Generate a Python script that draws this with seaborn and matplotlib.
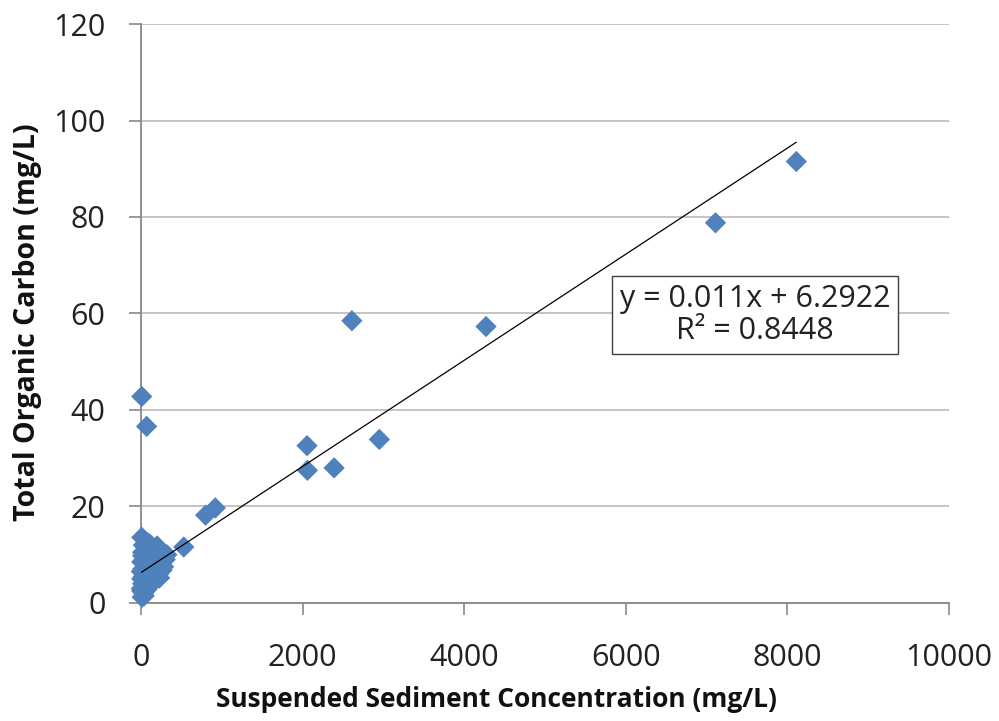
import matplotlib
matplotlib.use("Agg")
import matplotlib.pyplot as plt
import seaborn as sns
import numpy as np
import pandas as pd

# ---- data ----
ssc = [8110, 7110, 4270, 2610, 2950, 2390, 2055, 2060, 10, 70, 920, 800, 530,
       10, 110, 60, 200, 240, 150, 20, 90, 270, 300, 180, 40, 10, 120, 250, 280,
       200, 60, 20, 140, 220, 90, 30, 10, 160, 60, 100, 20, 40, 70, 10, 30, 15,
       5, 50, 130, 170, 320, 5, 80, 260, 230, 110,
       50, 100, 150, 200, 30, 70, 110, 180, 240, 40, 80, 120, 20, 60, 140, 190]
toc = [91.5, 78.8, 57.3, 58.5, 33.9, 28.0, 32.6, 27.5, 42.8, 36.6, 19.7, 18.2, 11.6,
       13.6, 12.2, 11.5, 11.8, 11.0, 10.8, 10.5, 10.0, 9.6, 9.0, 9.2, 9.0, 8.5, 8.3, 8.0, 7.5,
       7.0, 7.5, 7.0, 6.5, 6.0, 5.8, 5.5, 5.0, 5.0, 4.5, 4.0, 4.0, 3.2, 2.8, 2.5, 2.0, 1.2,
       3.0, 6.2, 7.2, 8.0, 10.0, 6.5, 12.5, 6.8, 5.2, 3.5,
       10.0, 9.0, 8.0, 9.5, 12.0, 8.8, 6.0, 6.5, 9.0, 1.5, 4.8, 5.3, 9.8, 3.8, 11.5, 10.2]
x_ticks = [0, 2000, 4000, 6000, 8000, 10000]
y_ticks = [0, 20, 40, 60, 80, 100, 120]
slope = 0.011
intercept = 6.2922
r_squared = 0.8448

sns.set_theme(style="white")
plt.rcParams['font.family'] = ['Open Sans', 'DejaVu Sans']

fig = plt.figure(figsize=(9.99, 7.21), dpi=100)
ax = fig.add_axes([0.1411, 0.1637, 0.8089, 0.803])

df = pd.DataFrame({"SSC": ssc, "TOC": toc})
sns.scatterplot(data=df, x="SSC", y="TOC", marker="D", s=118, color="#4F81BD",
                edgecolor="none", linewidth=0, ax=ax, zorder=3, clip_on=False)

xs = np.array([min(ssc), max(ssc)], dtype=float)
sns.lineplot(x=xs, y=slope * xs + intercept, color="black", linewidth=0.9, ax=ax, zorder=4)

ax.set_xlim(0, 10000)
ax.set_ylim(0, 120)
ax.set_xticks(x_ticks)
ax.set_yticks(y_ticks)
ax.set_xticklabels([str(t) for t in x_ticks])
ax.set_yticklabels([str(t) for t in y_ticks])

ax.yaxis.grid(True, color="#BFBFBF", linewidth=1.3)
ax.xaxis.grid(False)
ax.set_axisbelow(True)
for s in ["top", "right"]:
    ax.spines[s].set_visible(False)
for s in ["left", "bottom"]:
    ax.spines[s].set_color("#878787")
    ax.spines[s].set_linewidth(1.3)

ax.tick_params(axis="both", which="major", direction="out", length=8.5, width=1.2,
               color="#878787", labelsize=22, labelcolor="#222222")
ax.tick_params(axis="x", bottom=True, pad=20)
ax.tick_params(axis="y", left=True, pad=17)

ax.set_xlabel("Suspended Sediment Concentration (mg/L)", fontsize=19, fontweight="bold",
              color="#111111", va="center")
ax.xaxis.set_label_coords(0.44, -0.1675)
ax.set_ylabel("Total Organic Carbon (mg/L)", fontsize=20.5, fontweight="bold",
              color="#111111", va="center")
ax.yaxis.set_label_coords(-0.141, 0.485)

ax.text(0.76, 0.497, f"y = {slope}x + {intercept}\nR² = {r_squared}",
        transform=ax.transAxes, ha="center", va="center", fontsize=22,
        color="#222222", linespacing=1.1, zorder=5,
        bbox=dict(boxstyle="square,pad=0.26", facecolor="white", edgecolor="#404040",
                  linewidth=1.0))

fig.savefig("out.png", dpi=100)
